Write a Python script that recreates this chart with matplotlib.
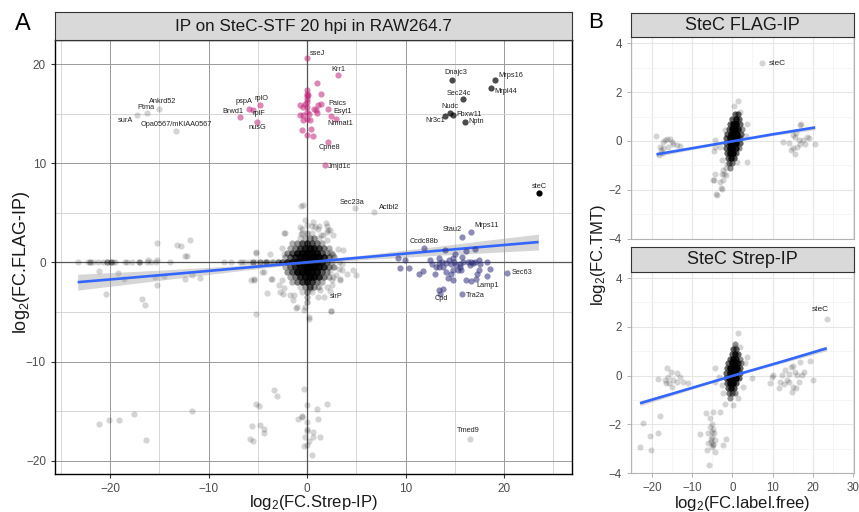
import numpy as np
import matplotlib
matplotlib.use('Agg')
import matplotlib.pyplot as plt
from matplotlib.ticker import MultipleLocator

plt.rcParams.update({'font.family': ['Liberation Sans', 'DejaVu Sans'],
                     'mathtext.default': 'regular'})

# ---------------------------------------------------------------
# Panel A: log2 FC Strep-IP (x) vs log2 FC FLAG-IP (y)
# ---------------------------------------------------------------
# dense centre of the cloud, stored as rows: y level, x positions and
# how many proteins overlap at each spot
a_row_y = [3.0, 2.5, 2.0, 1.5, 1.0, 0.5, 0.0, -0.5, -1.0, -1.5, -2.0, -2.5, -3.0, -3.5, -4.0, 0.0]
a_row_x = [[-0.5, 0.0, 0.5],
           [-0.75, -0.25, 0.25, 0.75, 1.25],
           [-1.5, -1.0, -0.5, 0.0, 0.5, 1.0, 1.5],
           [-1.75, -1.25, -0.75, -0.25, 0.25, 0.75, 1.25, 1.75, 2.25],
           [-2.0, -1.5, -1.0, -0.5, 0.0, 0.5, 1.0, 1.5, 2.0, 2.5],
           [-2.25, -1.75, -1.25, -0.75, -0.25, 0.25, 0.75, 1.25, 1.75, 2.25, 2.75],
           [-3.0, -2.5, -2.0, -1.5, -1.0, -0.5, 0.0, 0.5, 1.0, 1.5, 2.0, 2.5],
           [-2.25, -1.75, -1.25, -0.75, -0.25, 0.25, 0.75, 1.25, 1.75, 2.25, 2.75],
           [-2.0, -1.5, -1.0, -0.5, 0.0, 0.5, 1.0, 1.5, 2.0],
           [-1.75, -1.25, -0.75, -0.25, 0.25, 0.75, 1.25, 1.75, 2.25],
           [-1.5, -1.0, -0.5, 0.0, 0.5, 1.0, 1.5],
           [-0.75, -0.25, 0.25, 0.75, 1.25],
           [-0.5, 0.0, 0.5],
           [0.0], [0.0],
           [-23.3, -22.2, -22.0, -21.7, -21.2, -20.7, -20.3, -19.9, -19.7, -19.5,
            -18.5, -18.3, -17.8, -17.1, -17.0, -16.3, -15.9, -15.3, -13.9, -8.4,
            -7.7, -6.8, -6.6, -6.3, -5.8, -5.5, -5.2, -4.8, -4.4, -4.2,
            -4.1, -3.7, -3.5]]
a_row_n = [[1, 2, 1],
           [1, 2, 3, 3, 1],
           [2, 3, 6, 8, 6, 4, 2],
           [2, 4, 8, 12, 14, 12, 8, 4, 2],
           [3, 6, 12, 16, 20, 18, 14, 6, 3, 1],
           [2, 5, 10, 16, 22, 26, 22, 16, 10, 4, 2],
           [4, 5, 10, 14, 20, 26, 30, 26, 20, 12, 5, 2],
           [2, 5, 10, 16, 22, 26, 22, 16, 10, 4, 2],
           [3, 6, 14, 18, 22, 18, 14, 6, 3],
           [2, 4, 10, 14, 18, 14, 10, 4, 2],
           [2, 4, 8, 12, 8, 4, 2],
           [1, 3, 6, 3, 1],
           [1, 3, 1],
           [2], [1],
           [1, 1, 2, 1, 1, 1, 3, 3, 1, 1,
            1, 1, 1, 2, 1, 1, 1, 1, 1, 1,
            1, 1, 1, 1, 1, 3, 1, 3, 1, 3,
            1, 1, 2]]

# scattered background proteins
a_gray_pts = [(-15.2, 1.95), (-13.2, 1.72), (-12.8, 1.62), (-11.9, 2.29), (-12.4, 0.61),
              (-12.2, 0.61), (-15.25, 0.2), (-16.2, 0.27), (-21.1, -0.91), (-20.4, -3.23),
              (-19.2, -1.08), (-18.55, -1.65), (-16.8, -3.67), (-16.5, -4.28), (-15.25, -2.32),
              (-15.45, -1.48), (-14.5, -1.41), (-12.4, -1.65), (-11.65, -1.31), (-10.9, -1.55),
              (-5.15, 1.04), (-3.74, 0.88), (-5.66, -1.82), (-5.42, -1.65), (-4.58, -0.98),
              (-3.67, -1.65), (-4.07, -3.1), (-2.32, 2.96), (-2.56, 1.48), (-2.9, -2.32),
              (-2.46, -3.23), (-1.38, -3.33), (-0.98, -4.51), (-0.64, 5.66), (-0.2, 4.24),
              (-0.54, 3.4), (0.47, 3.7), (1.25, 3.7), (1.99, 3.7), (-0.77, 3.57),
              (1.14, 3.4), (2.32, 3.23), (-2.29, 3.0), (-0.64, 2.9), (1.58, 2.73),
              (1.99, 2.22), (-2.32, 0.88), (-5.15, 0.94), (2.32, 1.04), (2.66, 0.71),
              (3.5, -0.13), (3.27, -0.64), (2.96, -1.31), (4.07, -1.14), (4.95, -1.31),
              (3.33, -1.82), (-4.41, -0.98), (-3.57, -1.65), (-2.56, -1.82), (-2.39, -2.56),
              (-2.79, -3.0), (-1.72, -3.33), (-1.45, -3.84), (1.31, -2.76), (1.14, -3.5),
              (2.32, -2.9), (-1.11, -4.58), (-0.2, -4.51), (2.49, -2.32), (2.05, 3.06),
              (-5.42, -1.82), (0.64, 4.07), (1.92, 3.97), (-0.03, 3.74), (0.81, 3.57),
              (2.15, 3.23), (1.38, 2.73), (2.59, 2.73), (3.16, 1.38), (3.6, 1.21),
              (2.49, 0.88), (3.27, 0.03), (2.66, -0.47), (3.5, -0.81), (2.32, -0.98),
              (2.66, -1.48), (3.33, -1.65), (2.49, -1.82), (1.99, -2.5), (0.3, -2.66),
              (1.14, -2.5), (2.39, -4.85), (0.24, -5.52), (4.68, -0.81), (0.03, -4.0),
              (-0.3, -4.78), (0.24, -5.69), (2.42, -4.85), (-5.19, -5.19), (-0.37, 5.76),
              (-0.3, -12.76), (0.03, -14.4), (1.04, -14.8), (2.05, -14.3), (-0.54, -15.6),
              (1.14, -15.8), (0.03, -16.1), (0.03, -16.8), (0.03, -17.0), (0.64, -17.1),
              (-0.2, -17.6), (0.57, -17.6), (1.31, -17.6), (0.24, -18.0), (-0.3, -18.5),
              (0.03, -18.4), (0.47, -19.4), (-3.4, -12.9), (-3.06, -13.5), (-5.15, -14.3),
              (-4.85, -14.5), (-11.65, -15.0), (-17.6, -15.3), (-19.1, -15.9), (-20.1, -15.9),
              (-21.1, -16.3), (-5.6, -16.5), (-4.75, -16.4), (-4.34, -16.8), (-4.34, -17.2),
              (-5.76, -17.8), (-5.52, -18.0), (-16.4, -17.9), (-0.88, -15.8), (-0.5, -15.5)]

# FLAG-IP enriched proteins (pink)
a_pink_pts = [(0.98, 18.1), (1.41, 17.0), (0.03, 17.4), (0.03, 17.0), (0.0, 16.8),
              (0.03, 16.5), (1.15, 15.9), (1.38, 16.0), (-0.7, 15.9), (-0.37, 15.7),
              (0.0, 15.7), (0.7, 15.5), (0.9, 15.35), (1.05, 15.1), (0.23, 14.95),
              (-0.43, 14.85), (0.3, 14.35), (-0.43, 14.35), (0.37, 13.5), (-0.54, 13.4),
              (0.03, 12.9), (0.64, 12.75), (-0.7, 14.85), (0.0, 16.2), (0.0, 15.2),
              (0.0, 14.5), (0.1, 16.9), (-0.2, 16.0)]

# Strep-IP enriched proteins (purple)
a_purple_pts = [(9.23, 0.47), (9.9, 0.27), (9.46, -0.54), (10.34, -0.54), (11.35, -1.21),
                (11.8, -0.91), (13.0, -1.21), (12.5, 0.27), (12.7, -0.2), (13.4, 0.47),
                (13.4, -0.07), (13.4, -0.47), (13.8, -0.47), (14.1, -0.07), (14.4, 0.27),
                (14.8, 0.47), (14.9, 0.03), (15.1, -0.3), (15.5, -0.47), (15.7, 0.6),
                (15.8, 0.03), (16.1, 1.14), (16.3, 0.03), (16.5, -0.3), (16.6, 0.03),
                (16.8, -0.07), (17.1, 0.03), (17.5, 0.2), (17.6, -0.2), (17.5, -0.81),
                (17.3, -1.14), (18.55, -0.64), (18.3, -1.41), (16.1, -1.75), (16.6, -1.89),
                (14.3, -1.55), (14.6, -1.21), (14.85, -1.82), (13.8, -2.66), (13.4, -2.76),
                (14.1, -0.98), (14.0, 1.21), (14.8, -0.81), (15.3, -0.81), (15.6, -0.81),
                (15.05, 0.88), (14.6, -0.2), (15.5, -0.2), (17.0, 1.38), (18.3, 0.03),
                (13.1, -0.47), (13.7, 0.03)]

# labelled proteins
lab_name = ['sseJ', 'Krr1', 'Paics', 'Esyt1', 'Nmnat1', 'Cpne8', 'Jmjd1c',
            'pspA', 'rplO', 'Brwd1', 'rplF', 'nusG',
            'surA', 'Ptma', 'Ankrd52', 'Opa0567/mKIAA0567', 'Sec23a', 'Actbl2', 'slrP', 'Tmed9',
            'Dnajc3', 'Mrps16', 'Mrpl44', 'Sec24c', 'Nudc', 'Fbxw11', 'Nr3c1', 'Nptn',
            'steC',
            'Stau2', 'Mrps11', 'Ccdc88b', 'Sec63', 'Lamp1', 'Tra2a', 'Cpd']
lab_x = [0.0, 3.1, 2.15, 2.4, 2.9, 2.15, 1.8,
         -5.86, -4.75, -6.77, -5.5, -5.1,
         -17.3, -16.3, -15.0, -13.3, 4.9, 6.8, 1.75, 16.5,
         14.7, 19.1, 18.7, 15.8, 14.5, 14.8, 14.0, 16.0,
         23.5,
         15.7, 16.6, 11.9, 20.3, 17.2, 15.7, 13.5]
lab_y = [20.6, 18.9, 15.45, 14.8, 14.5, 12.2, 9.8,
         15.5, 15.86, 14.7, 15.35, 14.2,
         14.85, 15.05, 15.45, 13.3, 5.5, 5.1, -3.5, -17.8,
         18.4, 18.4, 17.6, 16.5, 15.1, 14.85, 14.75, 14.2,
         7.0,
         2.6, 3.1, 1.5, -1.1, -1.65, -3.2, -3.2]
lab_group = ['pink'] * 12 + ['gray'] * 8 + ['dark'] * 8 + ['black'] + ['purple'] * 7

# linear fit
fitA_x = [-23.3, -18.0, -12.0, -6.0, 0.0, 6.0, 12.0, 18.0, 23.5]
fitA_y = [-1.99, -1.55, -1.03, -0.50, 0.02, 0.54, 1.07, 1.59, 2.06]
fitA_se = [0.80, 0.62, 0.42, 0.24, 0.12, 0.24, 0.42, 0.62, 0.80]

# ---------------------------------------------------------------
# Panel B: log2 FC label-free (x) vs log2 FC TMT (y)
# ---------------------------------------------------------------
bf_row_y = [1.1, 0.9, 0.7, 0.5, 0.3, 0.1, -0.1, -0.3, -0.5, -0.7, -0.9, -1.1]
bf_row_x = [[0.6, 1.4],
            [0.0, 0.8, 1.6],
            [-0.6, 0.2, 1.0, 1.9],
            [-0.9, -0.1, 0.7, 1.5, 2.4],
            [-1.3, -0.4, 0.4, 1.2, 2.1],
            [-1.5, -0.6, 0.3, 1.1, 2.0],
            [-1.6, -0.7, 0.1, 0.9, 1.8],
            [-1.5, -0.7, 0.0, 0.8, 1.6],
            [-1.3, -0.5, 0.2, 1.0],
            [-1.1, -0.4, 0.3],
            [-0.8, -0.1],
            [-0.6]]
bf_row_n = [[5, 5],
            [5, 10, 5],
            [5, 12, 14, 5],
            [5, 14, 18, 10, 3],
            [5, 14, 20, 14, 5],
            [5, 14, 22, 16, 5],
            [5, 14, 22, 14, 5],
            [5, 14, 20, 10, 3],
            [5, 14, 14, 5],
            [5, 10, 6],
            [4, 4],
            [3]]
bf_pts = [(-19.0, 0.19), (-18.0, -0.25), (-17.6, -0.49), (-18.2, -0.59), (-17.2, -0.04),
          (-16.8, 0.03), (-16.2, 0.06), (-15.5, 0.06), (-14.7, -0.14), (-13.9, -0.18),
          (-13.0, -0.22), (-16.0, -0.25), (-17.4, -0.31), (-15.1, -0.04), (-17.9, -0.38),
          (12.7, -0.04), (14.2, -0.08), (15.2, 0.23), (15.6, 0.16), (16.1, -0.25),
          (16.5, 0.03), (16.9, 0.64), (17.1, 0.69), (15.9, 0.33), (15.2, -0.31),
          (15.6, -0.55), (14.6, -0.38), (17.6, 0.03), (18.6, 0.16), (19.2, 0.14),
          (20.6, -0.14), (16.9, -0.11), (18.1, -0.11),
          (1.35, 1.63), (0.42, 1.44), (1.92, 1.19), (-1.82, 0.44), (3.74, 0.71),
          (3.4, 0.19), (3.74, -0.86), (-4.3, 0.03), (-4.56, -0.41), (-3.07, -0.25),
          (-2.65, -0.79), (-2.24, -1.2), (-1.57, -1.1), (-2.65, -1.34), (-2.4, -1.61),
          (-4.56, -1.59), (-2.9, -1.91), (-3.9, -2.23), (-1.57, -1.41), (-1.24, -0.93),
          (1.09, -0.86), (-4.3, -1.34), (-3.07, -1.68), (-2.65, -1.99), (-4.7, -1.6),
          (-2.02, -1.34), (-4.06, -2.19), (-4.3, -0.25)]
bf_label = ('steC', 7.3, 3.18)
fitB1_x = [-18.9, -9.0, 0.5, 10.0, 20.6]
fitB1_y = [-0.55, -0.27, 0.0, 0.27, 0.55]
fitB1_se = [0.09, 0.05, 0.03, 0.05, 0.09]

bs_row_y = [1.3, 1.1, 0.9, 0.7, 0.5, 0.3, 0.1, -0.1, -0.3, -0.5, -0.7, -0.9]
bs_row_x = [[0.6],
            [0.2, 1.0],
            [-0.2, 0.6, 1.4],
            [-0.6, 0.2, 1.0, 1.8],
            [-1.0, -0.2, 0.6, 1.4, 2.2],
            [-1.4, -0.5, 0.3, 1.1, 2.0],
            [-1.6, -0.7, 0.1, 0.9, 1.8],
            [-1.6, -0.8, 0.0, 0.8, 1.6],
            [-1.4, -0.6, 0.2, 1.0],
            [-1.2, -0.4, 0.4],
            [-0.9, -0.1, 0.6],
            [-0.5]]
bs_row_n = [[3],
            [5, 5],
            [5, 10, 5],
            [5, 14, 10, 3],
            [5, 14, 18, 8, 3],
            [5, 14, 20, 14, 5],
            [5, 14, 22, 14, 5],
            [5, 14, 22, 14, 5],
            [5, 14, 16, 6],
            [5, 10, 6],
            [4, 4, 3],
            [3]]
bs_pts = [(-23.0, -2.91), (-22.2, -1.93), (-20.5, -2.47), (-20.3, -3.05), (-18.0, -1.65),
          (-18.4, -2.36),
          (-18.4, -0.15), (-16.4, 0.30), (-15.4, 0.16), (-16.0, -0.04), (-16.5, -0.31),
          (-15.1, -0.45), (-13.9, 0.12), (-13.0, -0.04), (-12.2, -0.25), (-11.0, -0.31),
          (-14.7, -0.18), (-15.7, -0.29), (-13.9, -0.25), (-16.8, -0.18),
          (9.4, -0.31), (10.2, 0.03), (11.5, -0.49), (12.3, 0.03), (13.1, 0.23),
          (13.6, -0.18), (14.2, 0.08), (14.6, 0.37), (15.2, 0.40), (15.6, 0.16),
          (16.1, 0.03), (16.5, -0.25), (16.9, 0.55), (15.2, -0.45), (14.8, -0.66),
          (15.8, -0.52), (17.3, 0.03), (14.0, -0.25), (19.4, 0.60), (20.2, -0.18),
          (17.9, 0.16), (12.9, -0.34), (11.9, -0.25), (9.8, -0.05),
          (-6.6, -1.54), (-4.9, -1.47), (-3.07, -1.5), (-5.6, -1.75), (-5.1, -2.0),
          (-6.0, -2.36), (-8.1, -2.39), (-4.7, -2.2), (-5.1, -2.5), (-4.3, -2.64),
          (-6.0, -2.77), (-6.4, -3.05), (-5.1, -2.91), (-4.3, -3.12), (-1.57, -2.6),
          (-2.4, -2.85), (-5.7, -3.66), (-5.6, -2.1), (-4.6, -2.36), (-5.4, -2.71),
          (-4.7, -2.85), (-5.0, -2.3), (-5.2, -2.6), (-4.9, -2.8),
          (1.35, 1.74), (0.67, 1.19), (1.92, 1.19), (-4.31, 0.30), (-2.65, -0.38),
          (-2.24, -0.72), (-1.82, -1.16), (0.1, -1.2), (1.5, -0.93), (2.74, -0.45),
          (4.8, -0.11), (3.74, 0.78), (3.17, 0.51), (-3.24, -0.04), (-4.3, -0.24),
          (23.5, 2.32)]
bs_label = ('steC', 23.5, 2.32)
fitB2_x = [-23.0, -11.5, 0.2, 12.0, 23.5]
fitB2_y = [-1.13, -0.57, 0.0, 0.56, 1.12]
fitB2_se = [0.10, 0.06, 0.03, 0.06, 0.10]

# ---------------------------------------------------------------
W, H = 859, 512
fig = plt.figure(figsize=(W / 100, H / 100), dpi=100)


def box(l, t, r, b):
    return [l / W, 1 - b / H, (r - l) / W, (b - t) / H]


def rows(ry, rx, rn):
    xs, ys = [], []
    for y, xr, nr in zip(ry, rx, rn):
        for x, n in zip(xr, nr):
            xs += [x] * n
            ys += [y] * n
    return np.array(xs), np.array(ys)


def dots(ax, x, y, color='black', alpha=0.17, s=20, z=3):
    ax.scatter(x, y, s=s, c=color, alpha=alpha, linewidths=0, zorder=z)


def fit(ax, x, y, se):
    x, y, se = np.array(x), np.array(y), np.array(se)
    ax.fill_between(x, y - se, y + se, color='#999999', alpha=0.4, lw=0, zorder=4)
    ax.plot(x, y, color='#3366FF', lw=1.9, zorder=5, solid_capstyle='butt')


def strip(rect, text, size):
    s = fig.add_axes(rect)
    s.set_facecolor('#d9d9d9')
    s.set_xticks([])
    s.set_yticks([])
    for sp in s.spines.values():
        sp.set_color('#333333')
        sp.set_linewidth(0.8)
    s.text(0.5, 0.47, text, ha='center', va='center', fontsize=size,
           color='#1a1a1a', transform=s.transAxes)


styles = {'pink': ('#C2257A', 0.55), 'gray': ('black', 0.17),
          'dark': ('black', 0.7), 'black': ('black', 1.0),
          'purple': ('#2E2E7A', 0.55)}

# ---------------- panel A ----------------
axA = fig.add_axes(box(55, 40, 572, 473.5))
axA.set_xlim(-25.6, 26.9)
axA.set_ylim(-21.3, 22.45)
axA.set_xticks([-20, -10, 0, 10, 20])
axA.set_yticks([-20, -10, 0, 10, 20])
axA.xaxis.set_minor_locator(MultipleLocator(5))
axA.yaxis.set_minor_locator(MultipleLocator(5))
axA.grid(which='major', color='#9a9a9a', lw=0.7, zorder=0)
axA.grid(which='minor', color='#d0d0d0', lw=0.6, zorder=0)
axA.set_axisbelow(True)
axA.axhline(0, color='#555555', lw=0.9, zorder=1)
axA.axvline(0, color='#555555', lw=0.9, zorder=1)
axA.tick_params(which='major', length=3, width=0.8, color='#333333',
                labelsize=8.5, labelcolor='#4d4d4d', pad=3.5)
axA.tick_params(which='minor', length=0)
for sp in axA.spines.values():
    sp.set_color('black')
    sp.set_linewidth(1.0)

gx, gy = np.array(a_gray_pts).T
dots(axA, gx, gy)
cx, cy = rows(a_row_y, a_row_x, a_row_n)
dots(axA, cx, cy)
fit(axA, fitA_x, fitA_y, fitA_se)
px, py = np.array(a_pink_pts).T
dots(axA, px, py, *styles['pink'], z=6)
ux, uy = np.array(a_purple_pts).T
dots(axA, ux, uy, *styles['purple'], z=6)

lab_text = {'sseJ': (1.0, 21.1), 'Krr1': (3.2, 19.5), 'Paics': (3.1, 16.0),
            'Esyt1': (3.6, 15.2), 'Nmnat1': (3.4, 14.0), 'Cpne8': (2.3, 11.6),
            'Jmjd1c': (3.3, 9.7), 'pspA': (-6.4, 16.2), 'rplO': (-4.65, 16.5),
            'Brwd1': (-7.55, 15.25), 'rplF': (-4.9, 15.0), 'nusG': (-5.0, 13.6),
            'surA': (-18.4, 14.35), 'Ptma': (-16.4, 15.6), 'Ankrd52': (-14.7, 16.2),
            'Opa0567/mKIAA0567': (-13.3, 13.9), 'Sec23a': (4.6, 6.1),
            'Actbl2': (8.3, 5.5), 'slrP': (3.0, -3.43), 'Tmed9': (16.4, -17.0),
            'Dnajc3': (15.1, 19.15), 'Mrps16': (20.7, 18.9), 'Mrpl44': (20.2, 17.3),
            'Sec24c': (15.4, 17.1), 'Nudc': (14.5, 15.7), 'Fbxw11': (16.5, 14.9),
            'Nr3c1': (13.0, 14.3), 'Nptn': (17.2, 14.2), 'steC': (23.6, 7.7),
            'Stau2': (14.7, 3.3), 'Mrps11': (18.2, 3.7), 'Ccdc88b': (11.9, 2.15),
            'Sec63': (21.8, -1.04), 'Lamp1': (18.3, -2.3), 'Tra2a': (17.1, -3.37),
            'Cpd': (13.6, -3.64)}
for name, x, y, g in zip(lab_name, lab_x, lab_y, lab_group):
    col, al = styles[g]
    dots(axA, [x], [y], col, al, z=7)
    tx, ty = lab_text[name]
    axA.text(tx, ty, name, fontsize=5.3, color='#222222', ha='center', va='center', zorder=8)

strip(box(55, 12.3, 572, 40), 'IP on SteC-STF 20 hpi in RAW264.7', 12.3)
fig.text(313.5 / W, 1 - 493 / H, 'log$_2$(FC.Strep-IP)', fontsize=12,
         ha='center', va='top', color='#1a1a1a')
fig.text(22 / W, 1 - 262 / H, 'log$_2$(FC.FLAG-IP)', fontsize=13, rotation=90,
         ha='center', va='center', color='#1a1a1a')
fig.text(23 / W, 1 - 23.5 / H, 'A', fontsize=17, ha='center', va='center')

# ---------------- panel B ----------------
axB1 = fig.add_axes(box(631, 37, 854, 238.5))
axB2 = fig.add_axes(box(631, 271.7, 854, 473.3))
for ax in (axB1, axB2):
    ax.set_xlim(-25.25, 30.3)
    ax.set_ylim(-4.0, 4.26)
    ax.set_xticks([-20, -10, 0, 10, 20, 30])
    ax.set_yticks([-4, -2, 0, 2, 4])
    ax.xaxis.set_minor_locator(MultipleLocator(5))
    ax.yaxis.set_minor_locator(MultipleLocator(1))
    ax.grid(which='major', color='#e6e6e6', lw=0.8, zorder=0)
    ax.grid(which='minor', color='#f2f2f2', lw=0.5, zorder=0)
    ax.set_axisbelow(True)
    ax.tick_params(which='major', length=3, width=0.7, color='#b3b3b3',
                   labelsize=8.3, labelcolor='#4d4d4d', pad=3.5)
    ax.tick_params(which='minor', length=0)
    for sp in ax.spines.values():
        sp.set_color('#b3b3b3')
        sp.set_linewidth(0.8)
axB1.tick_params(axis='x', length=0, labelbottom=False)

bx, by = np.array(bf_pts).T
dots(axB1, bx, by, s=19)
cx, cy = rows(bf_row_y, bf_row_x, bf_row_n)
dots(axB1, cx, cy, s=19)
fit(axB1, fitB1_x, fitB1_y, fitB1_se)
dots(axB1, [bf_label[1]], [bf_label[2]], s=19, z=6)
axB1.text(bf_label[1] + 1.7, bf_label[2], bf_label[0], fontsize=6, color='#222222',
          ha='left', va='center')

bx, by = np.array(bs_pts).T
dots(axB2, bx, by, s=19)
cx, cy = rows(bs_row_y, bs_row_x, bs_row_n)
dots(axB2, cx, cy, s=19)
fit(axB2, fitB2_x, fitB2_y, fitB2_se)
axB2.text(bs_label[1] - 1.7, bs_label[2] + 0.4, bs_label[0], fontsize=6, color='#222222',
          ha='center', va='center')

strip(box(631, 13.3, 854, 36.7), 'SteC FLAG-IP', 13)
strip(box(631, 246.7, 854, 271.7), 'SteC Strep-IP', 13)
fig.text(742 / W, 1 - 494 / H, 'log$_2$(FC.label.free)', fontsize=12,
         ha='center', va='top', color='#1a1a1a')
fig.text(598 / W, 1 - 255 / H, 'log$_2$(FC.TMT)', fontsize=12, rotation=90,
         ha='center', va='center', color='#1a1a1a')
fig.text(596 / W, 1 - 22 / H, 'B', fontsize=16, ha='center', va='center')

fig.savefig('out.png', dpi=100)
